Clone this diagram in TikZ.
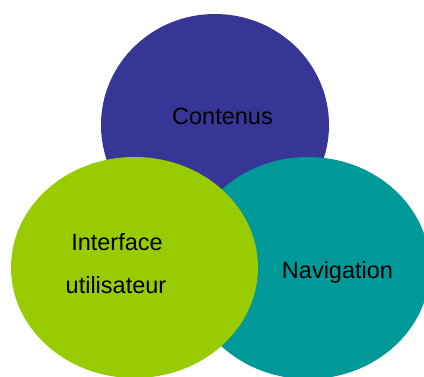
\documentclass[tikz,border=0pt]{standalone}
\usepackage{fontspec}
\setmainfont{Liberation Sans}
\definecolor{cPurple}{HTML}{373596}
\definecolor{cTeal}{HTML}{009999}
\definecolor{cGreen}{HTML}{99CC00}
\begin{document}
\begin{tikzpicture}[x=1pt,y=-1pt,
  lbl/.style={anchor=base,inner sep=0pt,text=black,font=\fontsize{23.5}{28}\selectfont}]
\useasboundingbox (0,0) rectangle (424,376);
\clip (0,0) rectangle (424,376);
\fill[cPurple] (215,125) ellipse [x radius=114, y radius=111];
\fill[cTeal] (308,268) ellipse [x radius=122, y radius=111];
\fill[cGreen] (134.5,267.5) ellipse [x radius=123.5, y radius=110.5];
\node[lbl] (contenus) at (222.5,124) {Contenus};
\node[lbl] (navigation) at (337.5,278) {Navigation};
\node[lbl] (interface) at (117,250) {Interface};
\node[lbl] (utilisateur) at (116,293) {utilisateur};
\end{tikzpicture}
\end{document}
